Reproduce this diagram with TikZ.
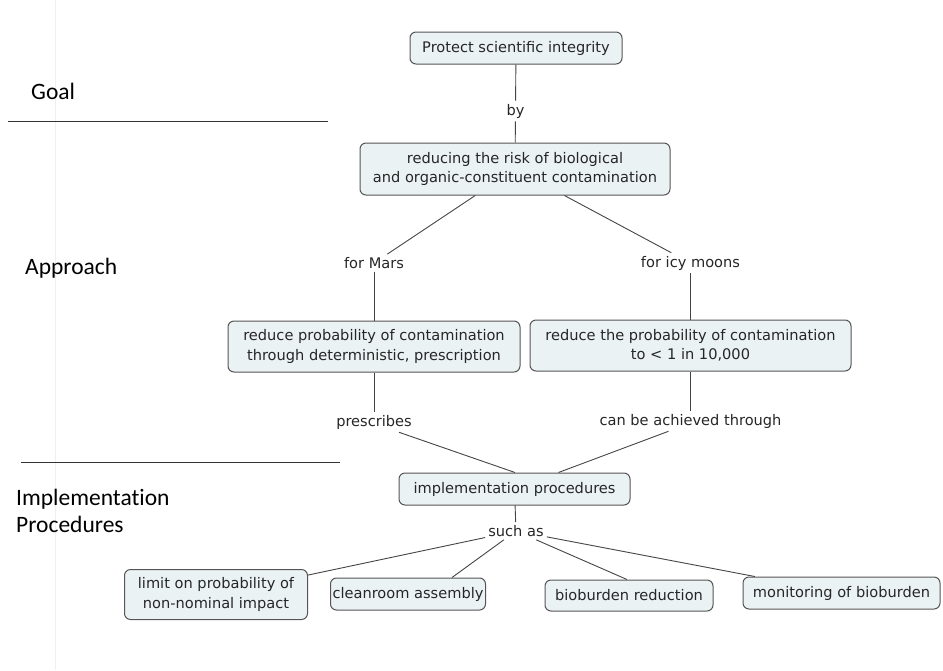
\documentclass[tikz,border=0pt]{standalone}
\usepackage{fontspec}
\newfontfamily\nodefont{DejaVu Sans}
\newfontfamily\sidefont[Ligatures=NoCommon]{Carlito}
\definecolor{boxfill}{HTML}{EBF2F4}
\definecolor{boxline}{HTML}{555555}
\definecolor{linkline}{HTML}{444444}
\definecolor{nodetext}{HTML}{262626}
\begin{document}
\begin{tikzpicture}[x=1pt,y=-1pt,
  concept/.style={draw=boxline, line width=1pt, fill=boxfill, rounded corners=6pt,
    align=center, inner sep=2pt, text=nodetext,
    font=\nodefont\fontsize{14.6}{19.5}\selectfont},
  linkphrase/.style={inner xsep=3pt, inner ysep=3pt, text=nodetext,
    font=\nodefont\fontsize{14.6}{19.5}\selectfont},
  conn/.style={draw=linkline, line width=0.9pt},
  sidelabel/.style={anchor=west, align=left, inner sep=0pt,
    font=\sidefont\fontsize{23.5}{27}\selectfont},
  rule/.style={draw=black!80, line width=0.9pt}]
\useasboundingbox (0,0) rectangle (943,670);

% faint slide edge
\draw[black!6, line width=0.8pt] (55,0) -- (55,670);

% section labels and separators
\node[sidelabel] (goal) at (31,91) {Goal};
\node[sidelabel] (approach) at (25,268) {Approach};
\node[sidelabel] (implsec) at (16,511) {Implementation\\Procedures};
\coordinate (r1a) at (8,121);
\coordinate (r1b) at (328,121);
\coordinate (r2a) at (21,462);
\coordinate (r2b) at (340,462);
\draw[rule] (r1a) -- (r1b);
\draw[rule] (r2a) -- (r2b);

% concepts
\node[concept, minimum width=212pt, minimum height=32pt] (protect) at (516,48) {Protect scientific integrity};
\node[concept, minimum width=310pt, minimum height=52pt] (reduce) at (515,169)
  {reducing the risk of biological\\and organic-constituent contamination};
\node[concept, minimum width=292pt, minimum height=51pt] (marsbox) at (374,346.5)
  {reduce probability of contamination\\through deterministic, prescription};
\node[concept, minimum width=321pt, minimum height=51pt] (icybox) at (690.5,345.5)
  {reduce the probability of contamination\\to < 1 in 10,000};
\node[concept, minimum width=231pt, minimum height=32pt] (impl) at (514.5,489) {implementation procedures};
\node[concept, minimum width=183pt, minimum height=50pt] (limit) at (216,594.5)
  {limit on probability of\\non-nominal impact};
\node[concept, minimum width=138pt, minimum height=32pt] (clean) at (408,594) {cleanroom assembly};
\node[concept, minimum width=168pt, minimum height=31pt] (bio) at (629,595.5) {bioburden reduction};
\node[concept, minimum width=197pt, minimum height=32pt] (monitor) at (841.5,593) {monitoring of bioburden};

% linking phrases
\node[linkphrase] (by) at (515.5,111) {by};
\node[linkphrase] (formars) at (374,263) {for Mars};
\node[linkphrase] (foricy) at (690.5,263) {for icy moons};
\node[linkphrase] (prescribes) at (374,422) {prescribes};
\node[linkphrase] (achieved) at (690.5,421) {can be achieved through};
\node[linkphrase] (suchas) at (516,531) {such as};

% connectors
\draw[conn] (protect) -- (by);
\draw[conn] (by) -- (reduce);
\draw[conn] (reduce) -- (formars);
\draw[conn] (reduce) -- (foricy);
\draw[conn] (formars) -- (marsbox);
\draw[conn] (foricy) -- (icybox);
\draw[conn] (marsbox) -- (prescribes);
\draw[conn] (icybox) -- (achieved);
\draw[conn] ([xshift=25pt]prescribes.south) -- ([xshift=0.5pt]impl.north);
\draw[conn] ([xshift=-22pt]achieved.south) -- ([xshift=44pt]impl.north);
\draw[conn] (impl) -- (suchas);
\draw[conn] (suchas) -- (limit);
\draw[conn] (suchas) -- ([xshift=44pt]clean.north);
\draw[conn] (suchas) -- ([xshift=-2pt]bio.north);
\draw[conn] (suchas) -- (monitor);
\end{tikzpicture}
\end{document}
